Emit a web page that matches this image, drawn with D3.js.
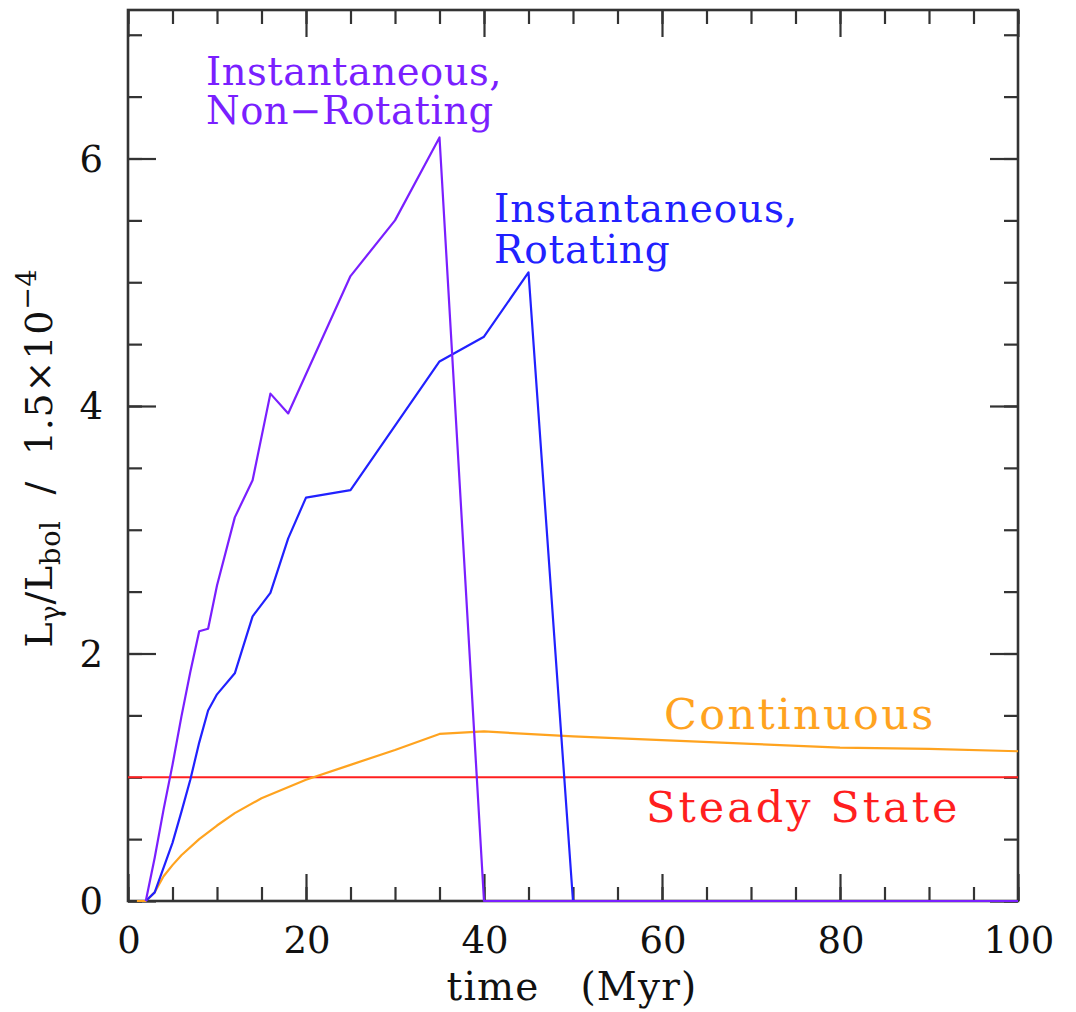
<!DOCTYPE html>
<html>
<head>
<meta charset="utf-8">
<script src="https://cdn.jsdelivr.net/npm/d3@7"></script>
<style>
  body { margin: 0; background: #fff; }
  svg text { font-family: "DejaVu Serif", serif; }
</style>
</head>
<body>
<svg id="chart" width="1076" height="1012"></svg>
<script>
// time (Myr) and L_gamma/L_bol in units of 1.5e-4

// instantaneous burst, non-rotating
const timeNR = [2, 3, 4, 5, 6, 7, 8, 9, 10, 12, 14, 16, 18, 25, 30, 35, 40, 100];
const lumNR  = [0, 0.35, 0.74, 1.1, 1.49, 1.85, 2.18, 2.2, 2.55, 3.1, 3.4, 4.1, 3.94, 5.05, 5.5, 6.17, 0, 0];

// instantaneous burst, rotating
const timeRot = [2, 3, 4, 5, 6, 7, 8, 9, 10, 12, 14, 16, 18, 20, 25, 35, 40, 45, 50, 100];
const lumRot  = [0, 0.07, 0.27, 0.47, 0.72, 0.98, 1.28, 1.54, 1.67, 1.84, 2.3, 2.49, 2.93, 3.26, 3.32, 4.36, 4.56, 5.08, 0, 0];

// continuous star formation
const timeCont = [1, 2, 3, 4, 5, 6, 8, 10, 12, 15, 20, 25, 30, 35, 40, 50, 60, 70, 80, 90, 100];
const lumCont  = [0, 0, 0.07, 0.2, 0.29, 0.37, 0.5, 0.61, 0.71, 0.83, 0.98, 1.1, 1.22, 1.35, 1.37, 1.33, 1.3, 1.27, 1.24, 1.23, 1.21];

// steady state
const timeSteady = [0, 100];
const lumSteady  = [1, 1];

const xMajor = [0, 20, 40, 60, 80, 100];
const yMajor = [0, 2, 4, 6];

const svg = d3.select('#chart');
const pLeft = 128, pRight = 1018, pTop = 10, pBottom = 901;

const x = d3.scaleLinear().domain([0, 100]).range([pLeft, pRight]);
const y = d3.scaleLinear().domain([0, 7.2]).range([pBottom, pTop]);

const xMinor = d3.range(0, 101, 5);
const yMinor = d3.range(0, 7.21, 0.5);

// frame + inward ticks on all four sides
function tickAxis(axis, tr, size, vals) {
    const g = svg.append('g')
        .attr('transform', tr)
        .call(axis.tickValues(vals).tickSize(size).tickFormat(''));
    g.select('.domain').remove();
    g.selectAll('line').attr('stroke', '#333').attr('stroke-width', 2.2);
    return g;
}
tickAxis(d3.axisBottom(x), `translate(0,${pBottom})`, -14, xMinor);
tickAxis(d3.axisBottom(x), `translate(0,${pBottom})`, -27, xMajor);
tickAxis(d3.axisTop(x), `translate(0,${pTop})`, -14, xMinor);
tickAxis(d3.axisTop(x), `translate(0,${pTop})`, -27, xMajor);
tickAxis(d3.axisLeft(y), `translate(${pLeft},0)`, -14, yMinor);
tickAxis(d3.axisLeft(y), `translate(${pLeft},0)`, -28, yMajor);
tickAxis(d3.axisRight(y), `translate(${pRight},0)`, -14, yMinor);
tickAxis(d3.axisRight(y), `translate(${pRight},0)`, -28, yMajor);

svg.append('rect')
    .attr('x', pLeft).attr('y', pTop)
    .attr('width', pRight - pLeft).attr('height', pBottom - pTop)
    .attr('fill', 'none')
    .attr('stroke', '#333')
    .attr('stroke-width', 2.6);

// series, drawn over the frame like the original
const line = d3.line().x(d => x(d[0])).y(d => y(d[1]));
function drawSeries(xs, ys, colour) {
    svg.append('path')
        .datum(xs.map((t, i) => [t, ys[i]]))
        .attr('d', line)
        .attr('fill', 'none')
        .attr('stroke', colour)
        .attr('stroke-width', 2.2)
        .attr('stroke-linejoin', 'round');
}
drawSeries(timeSteady, lumSteady, '#ff1f1f');
drawSeries(timeCont, lumCont, '#ffa31f');
drawSeries(timeRot, lumRot, '#2121ff');
drawSeries(timeNR, lumNR, '#7a1fff');

// tick labels
svg.append('g').selectAll('text')
    .data(xMajor).join('text')
    .attr('x', d => x(d) + 1)
    .attr('y', 953)
    .attr('text-anchor', 'middle')
    .attr('font-size', 37)
    .attr('fill', '#111')
    .text(d => d);

svg.append('g').selectAll('text')
    .data(yMajor).join('text')
    .attr('x', 103)
    .attr('y', d => y(d) + 13)
    .attr('text-anchor', 'end')
    .attr('font-size', 37)
    .attr('fill', '#111')
    .text(d => d);

// axis titles
svg.append('text')
    .attr('x', 572).attr('y', 1000)
    .attr('text-anchor', 'middle')
    .attr('font-size', 39)
    .attr('letter-spacing', 1.2)
    .attr('fill', '#111')
    .attr('xml:space', 'preserve')
    .text('time   (Myr)');

const yl = svg.append('text')
    .attr('transform', 'translate(52,458) rotate(-90)')
    .attr('text-anchor', 'middle')
    .attr('font-size', 38)
    .attr('letter-spacing', 0.8)
    .attr('fill', '#111')
    .attr('xml:space', 'preserve');
yl.append('tspan').text('L');
yl.append('tspan').attr('font-size', 27).attr('dy', 8).text('γ');
yl.append('tspan').attr('dy', -8).text('/L');
yl.append('tspan').attr('font-size', 27).attr('dy', 8).text('bol');
yl.append('tspan').attr('dy', -8).text('  /  1.5×10');
yl.append('tspan').attr('font-size', 27).attr('dy', -16).text('−4');

// curve labels
function label(lines, px, py, colour, lh, size, spacing) {
    const t = svg.append('text')
        .attr('font-size', size)
        .attr('letter-spacing', spacing)
        .attr('fill', colour);
    lines.forEach((s, i) => {
        t.append('tspan').attr('x', px).attr('y', py + i * lh).text(s);
    });
}
label(['Instantaneous,', 'Non−Rotating'], 206, 85, '#7a1fff', 39, 38.5, 0.5);
label(['Instantaneous,', 'Rotating'], 494, 222, '#2121ff', 41, 39, 0.8);
label(['Continuous'], 664, 729, '#ffa31f', 0, 43, 2.3);
label(['Steady State'], 646, 822, '#ff1f1f', 0, 43, 3);
</script>
</body>
</html>
